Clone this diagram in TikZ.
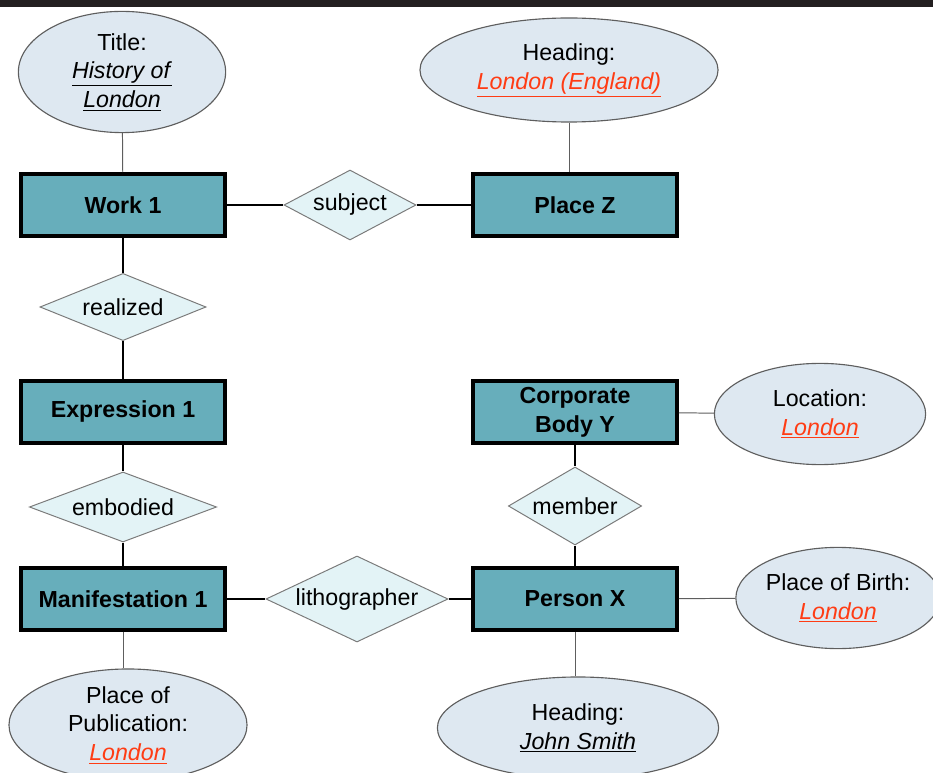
\documentclass[tikz,border=0pt]{standalone}
\usepackage{fontspec}
\setmainfont{Liberation Sans}
\usepackage{xcolor}
\usetikzlibrary{shapes.geometric}
\definecolor{entityteal}{HTML}{67AEBB}
\definecolor{attrfill}{HTML}{DEE8F1}
\definecolor{relfill}{HTML}{E3F3F6}
\definecolor{attrline}{HTML}{5E5E5E}
\definecolor{relline}{HTML}{7A7A7A}
\definecolor{londonred}{HTML}{FF3C14}
\definecolor{topbar}{HTML}{231F20}
\newcommand{\ulit}[1]{\underline{\textit{#1}}}
\newcommand{\redlink}[1]{\textcolor{londonred}{\underline{\textit{#1}}}}
\tikzset{
   entity/.style={rectangle, draw=black, line width=2.5pt, fill=entityteal, inner sep=0pt,
                  minimum width=5.1cm, minimum height=1.55cm, align=center,
                  font=\fontsize{16.5}{20.5}\selectfont\bfseries},
   attrib/.style={ellipse, draw=attrline, line width=0.8pt, fill=attrfill, inner sep=0pt,
                  align=center, font=\fontsize{16.5}{20.5}\selectfont},
   relation/.style={diamond, draw=relline, line width=0.7pt, fill=relfill, inner sep=0pt,
                  aspect=2.4, font=\fontsize{16.5}{20.5}\selectfont},
   link/.style={line width=2.1pt},
   attrlink/.style={line width=0.7pt, draw=attrline}
}

\begin{document}
\begin{tikzpicture}[x=0.025cm,y=-0.025cm]

%%% frame - pixel grid of the page
\clip (0,0) rectangle (933,773);
\fill[topbar] (0,0) rectangle (933,7.5);

%% Entities
\node[entity] (work) at (123,205) {Work 1};
\node[entity] (placez) at (575,205) {Place Z};
\node[entity] (expr) at (123,412) {Expression 1};
\node[entity] (corp) at (575,412) {Corporate\\Body Y};
\node[entity] (manif) at (123,599) {Manifestation 1};
\node[entity] (person) at (575,599) {Person X};

%% Relationships
\node[relation, minimum width=3.3cm, minimum height=1.75cm] (subject) at (350,205) {subject};
\node[relation, minimum width=4.15cm, minimum height=1.68cm] (realized) at (123,307) {realized};
\node[relation, minimum width=4.68cm, minimum height=1.75cm] (embodied) at (123,507) {embodied};
\node[relation, minimum width=4.55cm, minimum height=2.15cm] (litho) at (357,599) {lithographer};
\node[relation, minimum width=3.33cm, minimum height=1.95cm] (member) at (575,506) {member};

%% Attributes
\node[attrib, minimum width=5.18cm, minimum height=3.03cm] (title) at (122,72)
   {Title:\\\ulit{History of}\\\ulit{London}};
\node[attrib, minimum width=7.45cm, minimum height=2.6cm] (headz) at (569,70)
   {Heading:\\\redlink{London (England)}};
\node[attrib, minimum width=5.28cm, minimum height=2.53cm] (location) at (820,414)
   {Location:\\\redlink{London}};
\node[attrib, minimum width=4.8cm, minimum height=2.53cm] (birth) at (838,598)
   {Place of Birth:\\\redlink{London}};
\node[attrib, minimum width=7.03cm, minimum height=2.55cm] (headx) at (578,728)
   {Heading:\\\ulit{John Smith}};
\node[attrib, minimum width=5.95cm, minimum height=2.8cm] (pubplace) at (128,725)
   {Place of\\Publication:\\\redlink{London}};

%% Relationship links
\draw[link] (work) -- (subject) -- (placez);
\draw[link] (work) -- (realized) -- (expr);
\draw[link] (expr) -- (embodied) -- (manif);
\draw[link] (manif) -- (litho) -- (person);
\draw[link] (corp) -- (member) -- (person);

%% Attribute links
\draw[attrlink] (title) -- (work);
\draw[attrlink] (headz.south) -- (placez.north -| headz.south);
\draw[attrlink] (corp) -- (location);
\draw[attrlink] (person) -- (birth);
\draw[attrlink] (person) -- (headx.north -| person.south);
\draw[attrlink] (manif) -- (pubplace.north -| manif.south);

\end{tikzpicture}
\end{document}
